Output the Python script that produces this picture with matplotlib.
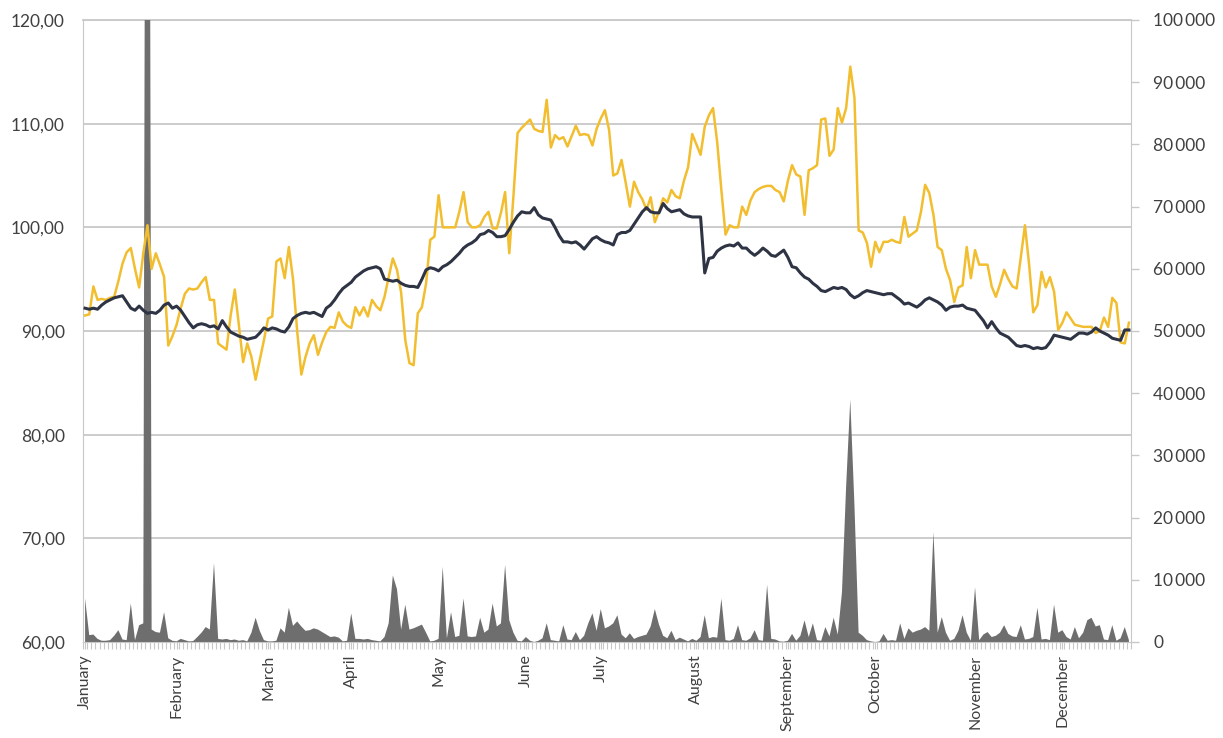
import numpy as np
import matplotlib
matplotlib.use("Agg")
import matplotlib.pyplot as plt
from matplotlib.ticker import FuncFormatter, FixedLocator

plt.rcParams['font.family'] = ['Lato', 'DejaVu Sans']

# ---------------- data ----------------
months = ["January", "February", "March", "April", "May", "June", "July",
          "August", "September", "October", "November", "December"]
month_start = [0, 22, 44, 64, 85, 106, 124, 147, 169, 190, 214, 235]

price_dark = [
    92.2, 92.1, 92.2, 92.1, 92.5, 92.8, 93.0, 93.2, 93.3, 93.4,
    92.8, 92.2, 92.0, 92.4, 92.0, 91.7, 91.8, 91.7, 92.0, 92.5,
    92.7, 92.2, 92.4, 92.0, 91.4, 90.8, 90.3, 90.6, 90.7, 90.6,
    90.4, 90.5, 90.2, 91.0, 90.4, 89.9, 89.7, 89.5, 89.4, 89.2,
    89.3, 89.4, 89.8, 90.3, 90.1, 90.3, 90.2, 90.0, 89.9, 90.4,
    91.2, 91.5, 91.7, 91.8, 91.7, 91.8, 91.6, 91.4, 92.2, 92.5,
    93.0, 93.6, 94.1, 94.4, 94.7, 95.2, 95.5, 95.8, 96.0, 96.1,
    96.2, 96.0, 95.0, 94.9, 94.8, 94.9, 94.6, 94.4, 94.3, 94.3,
    94.2, 95.0, 95.9, 96.1, 96.0, 95.8, 96.2, 96.4, 96.7, 97.1,
    97.5, 98.0, 98.3, 98.5, 98.8, 99.3, 99.4, 99.7, 99.5, 99.1,
    99.1, 99.2, 99.8, 100.5, 101.1, 101.5, 101.4, 101.4, 101.9, 101.2,
    100.9, 100.8, 100.7, 100.0, 99.2, 98.6, 98.6, 98.5, 98.6, 98.3,
    97.9, 98.4, 98.9, 99.1, 98.8, 98.6, 98.5, 98.3, 99.3, 99.5,
    99.5, 99.7, 100.3, 100.9, 101.5, 101.9, 101.5, 101.4, 101.4, 102.3,
    101.8, 101.5, 101.6, 101.7, 101.3, 101.1, 101.0, 101.0, 101.0, 95.6,
    97.0, 97.1, 97.7, 98.0, 98.2, 98.3, 98.2, 98.5, 98.0, 98.0,
    97.6, 97.3, 97.6, 98.0, 97.7, 97.3, 97.2, 97.5, 97.8, 97.1,
    96.2, 96.1, 95.6, 95.2, 95.0, 94.6, 94.3, 93.9, 93.8, 94.0,
    94.2, 94.1, 94.2, 94.0, 93.5, 93.2, 93.4, 93.7, 93.9, 93.8,
    93.7, 93.6, 93.5, 93.6, 93.6, 93.3, 93.0, 92.6, 92.7, 92.5,
    92.3, 92.6, 93.0, 93.2, 93.0, 92.8, 92.5, 92.0, 92.3, 92.4,
    92.4, 92.5, 92.2, 92.1, 92.0, 91.5, 91.0, 90.3, 90.9, 90.3,
    89.8, 89.6, 89.4, 89.0, 88.6, 88.5, 88.6, 88.5, 88.3, 88.4,
    88.3, 88.4, 88.9, 89.6, 89.5, 89.4, 89.3, 89.2, 89.5, 89.8,
    89.8, 89.7, 89.9, 90.3, 90.0, 89.8, 89.6, 89.3, 89.2, 89.1,
    90.1, 90.1]

price_yellow = [
    91.5, 91.6, 94.3, 93.0, 93.1, 93.0, 93.2, 93.3, 94.8, 96.5,
    97.6, 98.0, 96.0, 94.2, 97.5, 100.2, 96.0, 97.5, 96.4, 95.2,
    88.6, 89.5, 90.6, 92.2, 93.6, 94.1, 94.0, 94.1, 94.7, 95.2,
    93.0, 93.0, 88.8, 88.5, 88.2, 91.5, 94.0, 90.5, 87.0, 88.8,
    87.5, 85.3, 87.2, 89.1, 91.2, 91.4, 96.7, 97.0, 95.1, 98.1,
    95.0, 90.0, 85.8, 87.5, 88.8, 89.6, 87.7, 88.9, 89.9, 90.4,
    90.3, 91.8, 90.9, 90.5, 90.3, 92.3, 91.5, 92.3, 91.4, 93.0,
    92.4, 92.0, 93.3, 95.2, 97.0, 95.9, 93.7, 89.1, 86.9, 86.7,
    91.7, 92.3, 94.6, 98.8, 99.1, 103.1, 100.0, 100.0, 100.0, 100.0,
    101.5, 103.4, 100.5, 100.0, 100.0, 100.2, 101.0, 101.5, 99.9, 99.9,
    101.4, 103.4, 97.5, 103.0, 109.1, 109.6, 110.0, 110.4, 109.5, 109.3,
    109.2, 112.3, 107.7, 108.9, 108.5, 108.7, 107.8, 108.8, 109.8, 108.9,
    109.0, 108.9, 107.9, 109.5, 110.5, 111.3, 109.4, 105.0, 105.2, 106.5,
    104.3, 102.0, 104.4, 103.4, 102.7, 101.7, 102.9, 100.5, 101.5, 102.8,
    102.4, 103.6, 103.0, 102.8, 104.5, 105.8, 109.0, 108.0, 107.0, 109.7,
    110.8, 111.5, 108.2, 103.6, 99.3, 100.2, 100.0, 100.0, 102.0, 101.2,
    102.6, 103.4, 103.7, 103.9, 104.0, 104.0, 103.6, 103.4, 102.5, 104.5,
    106.0, 105.1, 104.9, 101.2, 105.5, 105.7, 106.0, 110.4, 110.5, 106.9,
    107.5, 111.5, 110.1, 111.5, 115.5, 112.5, 99.7, 99.5, 98.5, 96.2,
    98.6, 97.6, 98.6, 98.6, 98.8, 98.6, 98.5, 101.0, 99.1, 99.4,
    99.7, 101.5, 104.1, 103.3, 101.2, 98.1, 97.8, 96.0, 94.9, 92.8,
    94.2, 94.4, 98.1, 95.1, 97.8, 96.4, 96.4, 96.4, 94.3, 93.3,
    94.5, 95.9, 95.0, 94.3, 94.1, 97.1, 100.2, 96.4, 91.8, 92.5,
    95.7, 94.2, 95.2, 93.8, 90.1, 90.8, 91.8, 91.2, 90.6, 90.5,
    90.4, 90.4, 90.4, 89.8, 90.0, 91.3, 90.4, 93.2, 92.7, 88.9,
    88.8, 90.8]

volume = [
    7000, 1100, 1200, 500, 200, 200, 300, 1000, 1900, 400,
    300, 6200, 300, 2700, 3000, 300000, 2000, 1600, 1500, 4800,
    600, 200, 100, 500, 300, 100, 150, 800, 1500, 2400,
    2000, 12700, 500, 400, 500, 300, 400, 200, 300, 100,
    1500, 3900, 1800, 300, 100, 100, 200, 2200, 1500, 5500,
    2600, 3300, 2500, 1800, 1900, 2200, 2000, 1600, 1200, 800,
    900, 700, 100, 200, 4600, 500, 500, 400, 500, 300,
    200, 100, 800, 3000, 10700, 8500, 2000, 6000, 2000, 2200,
    2500, 2800, 1500, 100, 200, 500, 12100, 600, 4800, 800,
    1000, 7000, 900, 800, 900, 3900, 1500, 2000, 6200, 2500,
    3000, 12400, 3500, 1500, 200, 100, 800, 200, 0, 200,
    600, 3000, 300, 200, 100, 2700, 400, 300, 1600, 300,
    1000, 3000, 4600, 1800, 5300, 2200, 2500, 3000, 4300, 1200,
    600, 1400, 500, 800, 1000, 1200, 2500, 5300, 2800, 1000,
    600, 1800, 300, 700, 400, 100, 500, 200, 800, 4300,
    600, 800, 700, 7000, 300, 200, 500, 2700, 300, 200,
    600, 1900, 300, 200, 9200, 500, 400, 100, 50, 200,
    1300, 200, 1000, 3500, 800, 3000, 300, 200, 2400, 900,
    3900, 1200, 8000, 25000, 39000, 22000, 1500, 1000, 300, 100,
    0, 100, 1300, 200, 300, 200, 3000, 500, 2200, 1500,
    1800, 2000, 2400, 1800, 17700, 1500, 4000, 1500, 200, 500,
    1800, 4300, 1500, 200, 8800, 300, 1200, 1600, 800, 1000,
    1500, 2700, 1300, 900, 800, 2700, 400, 500, 800, 5500,
    400, 500, 300, 6000, 1500, 1900, 800, 400, 2400, 600,
    1500, 3500, 3900, 2500, 2700, 400, 300, 2700, 200, 600,
    2400, 300]

price_ticks = [60, 70, 80, 90, 100, 110, 120]
volume_ticks = list(range(0, 100001, 10000))

# ---------------- figure ----------------
n = len(price_dark)
x = np.arange(n)

fig = plt.figure(figsize=(12.23, 7.38), dpi=100)
ax = fig.add_axes([83 / 1223, 96 / 738, (1131 - 83) / 1223, 622 / 738])
ax2 = ax.twinx()

text_col = '#404040'
grid_col = '#c8c8c8'
axis_col = '#c8c8c8'

# volume area on host axis (drawn behind lines)
ax.set_ylim(0, 100000)
ax.set_xlim(-0.5, n - 0.5)
# gridlines (price levels mapped onto volume axis)
for p in price_ticks[1:]:
    ax.axhline((p - 60) / 60 * 100000, color=grid_col, lw=1.3, zorder=0)
ax.fill_between(x, 0, volume, color='#6e6e6e', lw=0, zorder=1)

# price lines
ax2.set_ylim(60, 120)
ax2.plot(x, price_yellow, color='#f2be2f', lw=1.8, zorder=3)
ax2.plot(x, price_dark, color='#2e3444', lw=2.2, zorder=4)
ax2.set_xlim(-0.5, n - 0.5)

# move ticks: volume on right, price on left
ax.yaxis.tick_right()
ax.yaxis.set_label_position('right')
ax2.yaxis.tick_left()
ax2.yaxis.set_label_position('left')

ax2.set_yticks(price_ticks)
ax2.yaxis.set_major_formatter(FuncFormatter(lambda v, p: f"{v:.2f}".replace('.', ',')))
ax2.tick_params(axis='y', length=0, pad=13, labelsize=12.5, labelcolor=text_col)

ax.set_yticks(volume_ticks)
ax.yaxis.set_major_formatter(FuncFormatter(lambda v, p: f"{int(v):,}".replace(',', '\u2009') if v else "0"))
ax.tick_params(axis='y', length=6, width=1, color=axis_col, pad=10,
               labelsize=12.5, labelcolor=text_col)

# x axis: category ticks + month labels
ax.set_xticks(month_start)
ax.set_xticklabels(months, rotation=90, va='top', ha='center')
ax.xaxis.set_minor_locator(FixedLocator(np.arange(-0.5, n, 1.0)))
ax.tick_params(axis='x', which='major', length=5, color=axis_col, pad=4,
               labelsize=11.5, labelcolor=text_col)
ax.tick_params(axis='x', which='minor', length=5, color=axis_col, width=0.8)
ax2.tick_params(axis='x', which='both', length=0, labelbottom=False)

for a in (ax, ax2):
    for s in a.spines.values():
        s.set_visible(False)
ax.spines['bottom'].set_visible(True)
ax.spines['bottom'].set_color(axis_col)
ax.spines['left'].set_visible(True)
ax.spines['left'].set_color(axis_col)
ax.spines['right'].set_visible(True)
ax.spines['right'].set_color(axis_col)
ax.axhline(100000, color=grid_col, lw=1.3, zorder=0, clip_on=False)

fig.savefig("out.png", dpi=100, facecolor='white')
